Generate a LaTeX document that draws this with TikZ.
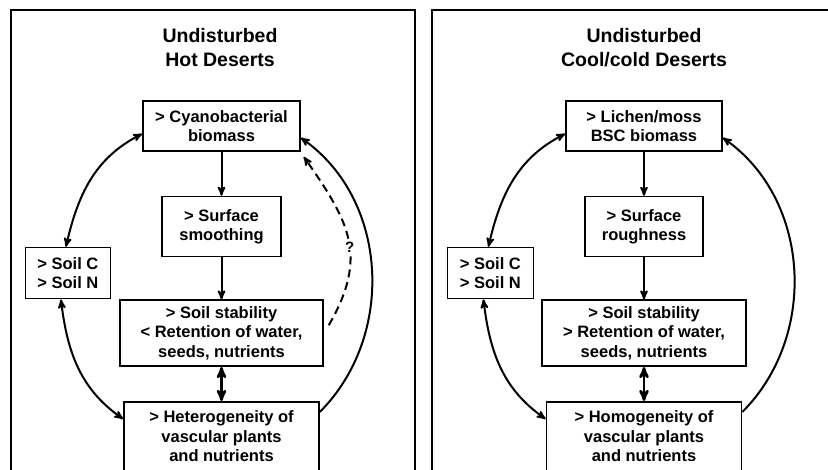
\documentclass[tikz,border=0pt]{standalone}
\usepackage{fontspec}
\setmainfont{Liberation Sans}
\usetikzlibrary{arrows, positioning}

\begin{document}
\begin{tikzpicture}[x=1pt, y=1pt, >=stealth']
    \tikzset{
        frame/.style={draw, line width=2.6pt},
        heading/.style={align=center, font=\fontsize{19.5}{24}\selectfont\bfseries},
        block/.style={draw, rectangle, line width=1.6pt, align=center, inner sep=3pt, font=\fontsize{16.5}{19.5}\selectfont\bfseries},
        link/.style={line width=2pt},
        twoway/.style={line width=2.6pt, <->}
    }
    \useasboundingbox (0,0) rectangle (828,-470);
    \clip (0,0) rectangle (828,-470);

    % --- Frames ---
    \draw[frame] (11,-10) rectangle (415,-490);
    \draw[frame] (432,-10) rectangle (850,-490);

    % --- Hot deserts ---
    \node[heading] (titleL) at (220,-48) {Undisturbed\\Hot Deserts};
    \node[block, minimum width=157pt, minimum height=50pt] (cyano) at (221.5,-126) {> Cyanobacterial\\biomass};
    \node[block, minimum width=119pt, minimum height=60pt, below=44pt of cyano] (smooth) {> Surface\\smoothing};
    \node[block, minimum width=203pt, minimum height=66pt, below=42pt of smooth] (stabL) {> Soil stability\\< Retention of water,\\seeds, nutrients};
    \node[block, minimum width=195pt, minimum height=69pt, below=34pt of stabL] (hetero) {> Heterogeneity of\\vascular plants\\and nutrients};
    \node[block, minimum width=85pt, minimum height=51pt, above left=0pt and 8pt of stabL] (soilL) {> Soil C\\> Soil N};

    % --- Cool/cold deserts ---
    \node[heading] (titleR) at (644,-48) {Undisturbed\\Cool/cold Deserts};
    \node[block, minimum width=156pt, minimum height=50pt] (lichen) at (644,-126) {> Lichen/moss\\BSC biomass};
    \node[block, minimum width=118pt, minimum height=60pt, below=44pt of lichen] (rough) {> Surface\\roughness};
    \node[block, minimum width=204pt, minimum height=66pt, below=42pt of rough] (stabR) {> Soil stability\\> Retention of water,\\seeds, nutrients};
    \node[block, minimum width=195pt, minimum height=69pt, below=34pt of stabR] (homo) {> Homogeneity of\\vascular plants\\and nutrients};
    \node[block, minimum width=86pt, minimum height=51pt, above left=0pt and 7pt of stabR] (soilR) {> Soil C\\> Soil N};

    % --- Straight links ---
    \draw[link, ->] (cyano) -- (smooth);
    \draw[link, ->] (smooth) -- (stabL);
    \draw[twoway] (stabL) -- (hetero);
    \draw[link, ->] (lichen) -- (rough);
    \draw[link, ->] (rough) -- (stabR);
    \draw[twoway] (stabR) -- (homo);

    % --- Outer loop, hot ---
    \draw[link, <->] ([xshift=-2pt]soilL.north) to[out=77, in=207] ([yshift=18pt]cyano.south west);
    \draw[link, <->] ([xshift=-7pt]soilL.south) to[out=277, in=145] ([yshift=-18pt]hetero.north west);
    \draw[link, ->] ([yshift=-11pt]hetero.north east) to[out=45, in=-35] ([yshift=14pt]cyano.south east);
    % feedback still unknown
    \draw[link, dash pattern=on 8pt off 5pt, ->] ([shift={(5pt,8pt)}]stabL.east) to[out=60, in=-55, looseness=1.2]
        node[pos=0.45, fill=white, inner sep=1.5pt, font=\fontsize{15}{17}\selectfont\bfseries] {?} ([shift={(3pt,-5pt)}]cyano.south east);

    % --- Outer loop, cool/cold ---
    \draw[link, <->] ([xshift=-2pt]soilR.north) to[out=77, in=207] ([yshift=18pt]lichen.south west);
    \draw[link, <->] ([xshift=-7pt]soilR.south) to[out=277, in=145] ([yshift=-18pt]homo.north west);
    \draw[link, ->] ([yshift=-11pt]homo.north east) to[out=45, in=-35] ([yshift=14pt]lichen.south east);
\end{tikzpicture}
\end{document}
